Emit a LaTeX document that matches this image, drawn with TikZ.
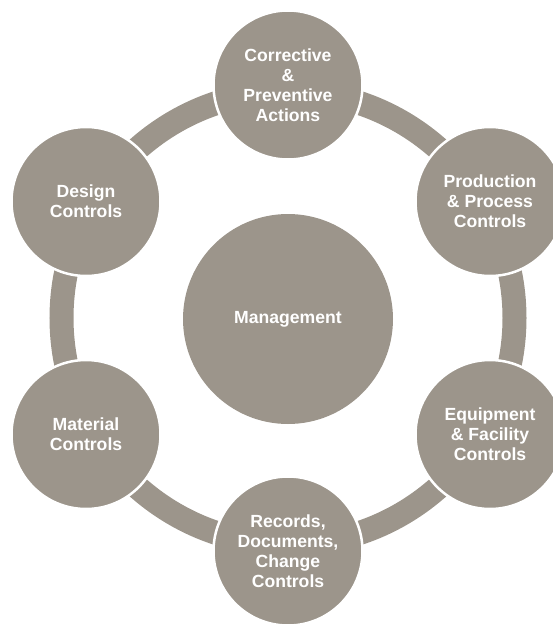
\documentclass[tikz,border=0pt]{standalone}
\usepackage{fontspec}
\setmainfont{Liberation Sans}
\definecolor{taupe}{RGB}{156,149,139}
\begin{document}
\begin{tikzpicture}[x=1pt,y=-1pt,
  lbl/.style={text=white, align=center, font=\bfseries\fontsize{17.6}{20}\selectfont},
  outer/.style={circle, fill=taupe, draw=white, line width=2.5pt, minimum size=149pt, inner sep=0pt, lbl},
  hub/.style={circle, fill=taupe, minimum size=210pt, inner sep=0pt, lbl},
  ring/.style={draw=taupe, line width=24pt}]
\useasboundingbox (0,0) rectangle (553,624);
\clip (0,0) rectangle (553,624);
\node[hub] (mgmt) at (288,319) {Management};
\draw[ring] (288,318) circle[radius=226.5];
\node[outer] (capa) at (288,85) {Corrective\\\&\\Preventive\\Actions};
\node[outer] (prod) at (490,201.5) {Production\\\& Process\\Controls};
\node[outer] (equip) at (490,434.5) {Equipment\\\& Facility\\Controls};
\node[outer] (recs) at (288,551) {Records,\\Documents,\\Change\\Controls};
\node[outer] (matl) at (86,434.5) {Material\\Controls};
\node[outer] (design) at (86,201.5) {Design\\Controls};
\end{tikzpicture}
\end{document}
